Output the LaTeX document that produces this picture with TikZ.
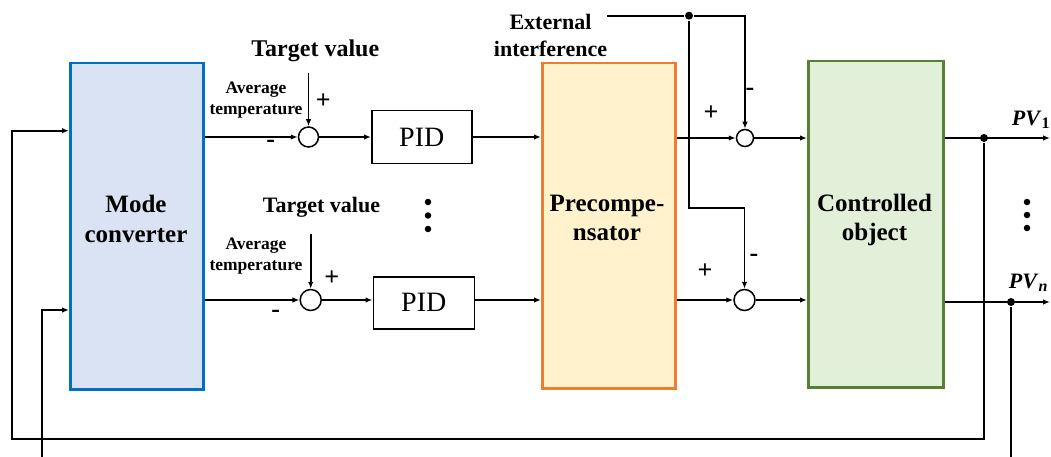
\documentclass[tikz,border=0pt]{standalone}
\usepackage{fontspec}
\setmainfont{Liberation Serif}
\usetikzlibrary{arrows.meta}
\definecolor{modefill}{HTML}{DAE3F3}
\definecolor{modeline}{HTML}{0070C0}
\definecolor{prefill}{HTML}{FFF2CC}
\definecolor{preline}{HTML}{ED7D31}
\definecolor{ctrlfill}{HTML}{E2F0D9}
\definecolor{ctrlline}{HTML}{548235}
\begin{document}
\begin{tikzpicture}[x=1pt,y=-1pt,
  line width=1.7pt,
  >={Latex[length=7pt,width=5.5pt]},
  blockbox/.style={rectangle, line width=2.5pt, inner sep=0pt, anchor=north west},
  blocktext/.style={font=\fontsize{25}{29.5}\selectfont\bfseries, align=center, inner sep=0pt, anchor=base},
  pidbox/.style={draw, rectangle, line width=1.5pt, inner sep=0pt, anchor=north west, font=\fontsize{28}{28}\selectfont},
  sumnode/.style={draw, circle, line width=1.5pt, inner sep=0pt, fill=white, minimum size=#1},
  junction/.style={circle, fill=black, inner sep=0pt, minimum size=8pt},
  dotnode/.style={circle, fill=black, inner sep=0pt, minimum size=6.5pt},
  signlab/.style={font=\fontsize{26}{26}\selectfont\bfseries, inner sep=0pt},
  smalllab/.style={font=\fontsize{17.5}{21}\selectfont\bfseries, align=center, inner sep=0pt, anchor=north},
]
\useasboundingbox (0,0) rectangle (1051,457);

% blocks
\node[blockbox, draw=modeline, fill=modefill, minimum width=133pt, minimum height=326pt] (mode) at (69,62) {};
\node[blocktext] (modetxt) at (136,242.3) {Mode\\converter};
\node[blockbox, draw=preline, fill=prefill, minimum width=133pt, minimum height=325pt] (pre) at (541,62) {};
\node[blocktext] (pretxt) at (607,240.5) {Precompe-\\nsator};
\node[blockbox, draw=ctrlline, fill=ctrlfill, minimum width=135pt, minimum height=326pt] (ctrl) at (807,60) {};
\node[blocktext] (ctrltxt) at (874.5,240.5) {Controlled\\object};

% PID boxes
\node[pidbox, minimum width=100pt, minimum height=53pt] (pid1) at (371,110) {PID};
\node[pidbox, minimum width=101pt, minimum height=52pt] (pid2) at (372.5,276) {PID};

% summing junctions
\node[sumnode=20pt] (s1) at (308.5,137) {};
\node[sumnode=21pt] (s2) at (310.7,300) {};
\node[sumnode=17pt] (s3) at (745,138) {};
\node[sumnode=21pt] (s4) at (744.5,300) {};

% labels
\node[font=\fontsize{24}{24}\selectfont\bfseries, inner sep=0pt, anchor=base] (tgt1) at (315.3,56.7) {Target value};
\node[font=\fontsize{22}{22}\selectfont\bfseries, inner sep=0pt, anchor=base] (tgt2) at (321.5,212.7) {Target value};
\node[smalllab] (avg1) at (256,80.7) {Average\\temperature};
\node[smalllab] (avg2) at (256,236.7) {Average\\temperature};
\node[font=\fontsize{22}{26.7}\selectfont\bfseries, align=center, inner sep=0pt, anchor=north] (ext) at (550.5,13.3) {External\\interference};

\node[signlab] (p1) at (323.3,100.7) {+};
\node[signlab] (m1) at (270.7,143.5) {-};
\node[signlab] (p2) at (331.7,278.3) {+};
\node[signlab] (m2) at (275.7,313.5) {-};
\node[signlab] (p3) at (711,113) {+};
\node[signlab] (m3) at (750,92) {-};
\node[signlab] (p4) at (705,271) {+};
\node[signlab] (m4) at (754,258) {-};

\node[inner sep=0pt, anchor=base west] (pv1) at (1011,126) {{\fontsize{22}{22}\selectfont\bfseries\itshape PV}\,\raisebox{-3pt}{\fontsize{16}{16}\selectfont\bfseries 1}};
\node[inner sep=0pt, anchor=base west] (pvn) at (1008,288) {{\fontsize{22}{22}\selectfont\bfseries\itshape PV}\,\raisebox{-3pt}{\fontsize{16}{16}\selectfont\bfseries\itshape n}};

% ellipsis dots
\node[dotnode] (ea) at (428,202) {};
\node[dotnode] (eb) at (428,215.5) {};
\node[dotnode] (ec) at (428,229) {};
\node[dotnode] (fa) at (1027,202) {};
\node[dotnode] (fb) at (1027,215) {};
\node[dotnode] (fc) at (1027,228) {};

% coordinates
\coordinate (tv1) at (308.5,72.7);
\coordinate (tv2) at (310.7,234);
\coordinate (e0) at (607,15.7);
\node[junction] (e1) at (689,15.7) {};
\coordinate (e2) at (689,208);
\coordinate (o1) at (1050,138);
\coordinate (o2) at (1050,302);
\node[junction] (d1) at (984,138) {};
\node[junction] (d2) at (1011,302) {};
\coordinate (c1) at (12,439);
\coordinate (c2) at (42,475);
\coordinate (in1) at (69,130.7);
\coordinate (in2) at (69,310);

% row 1
\draw[->] (mode.east |- s1.west) -- (s1.west);
\draw[->] (tv1) -- (s1.north);
\draw[->] (s1.east) -- (s1.east -| pid1.west);
\draw[->] (pid1.east |- s1.east) -- (pre.west |- s1.east);
\draw[->] (pre.east |- s3.west) -- (s3.west);
\draw[->] (s3.east) -- (ctrl.west |- s3.east);
\draw[->] (ctrl.east |- o1) -- (o1);

% row 2
\draw[->] (mode.east |- s2.west) -- (s2.west);
\draw[->] (tv2) -- (s2.north);
\draw[->] (s2.east) -- (s2.east -| pid2.west);
\draw[->] (pid2.east |- s2.east) -- (pre.west |- s2.east);
\draw[->] (pre.east |- s4.west) -- (s4.west);
\draw[->] (s4.east) -- (ctrl.west |- s4.east);
\draw[->] (ctrl.east |- o2) -- (o2);

% external interference
\draw (e0) -- (e1);
\draw[->] (e1) -| (s3.north);
\draw[->] (e1) -- (e2) -| (s4.north);

% feedback
\draw[->] (d1) |- (c1) |- (in1);
\draw[->] (d2) |- (c2) |- (in2);
\end{tikzpicture}
\end{document}
